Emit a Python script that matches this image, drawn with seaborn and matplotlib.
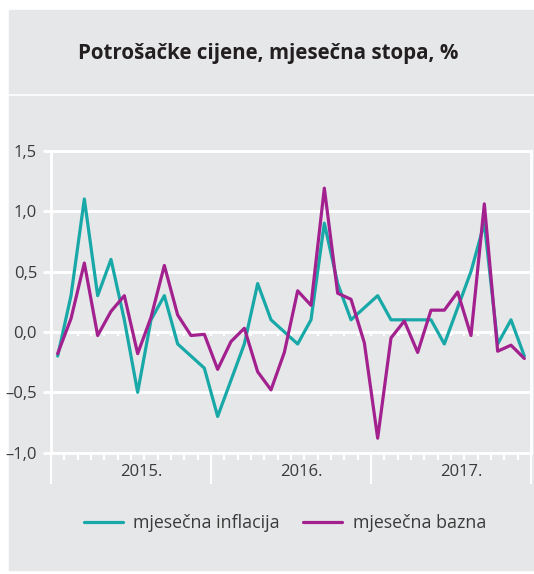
import numpy as np
import pandas as pd
import matplotlib
matplotlib.use("Agg")
import matplotlib.pyplot as plt
import seaborn as sns
from matplotlib.patches import Rectangle

# monthly data, Jan 2015 - Dec 2017
years = ["2015.", "2016.", "2017."]
inflacija = [-0.2, 0.3, 1.1, 0.3, 0.6, 0.1, -0.5, 0.1, 0.3, -0.1, -0.2, -0.3,
             -0.7, -0.4, -0.1, 0.4, 0.1, 0.0, -0.1, 0.1, 0.9, 0.4, 0.1, 0.2,
             0.3, 0.1, 0.1, 0.1, 0.1, -0.1, 0.2, 0.5, 0.9, -0.1, 0.1, -0.2]
bazna = [-0.18, 0.11, 0.57, -0.03, 0.17, 0.30, -0.18, 0.12, 0.55, 0.14, -0.03, -0.02,
         -0.31, -0.08, 0.03, -0.33, -0.48, -0.17, 0.34, 0.22, 1.19, 0.32, 0.27, -0.09,
         -0.88, -0.05, 0.09, -0.17, 0.18, 0.18, 0.33, -0.03, 1.06, -0.16, -0.11, -0.22]
yticks = [-1.0, -0.5, 0.0, 0.5, 1.0, 1.5]
ytick_labels = ["–1,0", "–0,5", "0,0", "0,5", "1,0", "1,5"]

n = len(inflacija)
x = np.arange(n) + 0.5
df = pd.DataFrame({
    "mjesec": np.concatenate([x, x]),
    "vrijednost": inflacija + bazna,
    "serija": ["mjesečna inflacija"] * n + ["mjesečna bazna"] * n,
})

sns.set_style("white")
plt.rcParams["font.family"] = ["Open Sans", "DejaVu Sans"]

W, H = 534, 574
fig = plt.figure(figsize=(W / 100, H / 100), dpi=100)
bg = "#e6e7e8"
fig.patches.append(Rectangle((9 / W, 1 - 93 / H), (W - 9) / W, 83 / H,
                             transform=fig.transFigure, color=bg, zorder=-1))
fig.patches.append(Rectangle((9 / W, 1 - 570 / H), (W - 9) / W, 474 / H,
                             transform=fig.transFigure, color=bg, zorder=-1))

fig.text(268 / W, 1 - 54 / H, "Potrošačke cijene, mjesečna stopa, %",
         ha="center", va="center", fontsize=14.8, fontweight="bold", color="#231f20")

ax = fig.add_axes([51 / W, 1 - 452.7 / H, 480 / W, 302 / H])
ax.set_facecolor("none")

sns.lineplot(data=df, x="mjesec", y="vrijednost", hue="serija", ax=ax,
             palette=["#19a8a8", "#a2218f"], linewidth=2.3)

ax.set_xlim(0, n)
ax.set_ylim(-1.0, 1.5)
ax.set_xlabel("")
ax.set_ylabel("")

ax.set_yticks(yticks)
ax.set_yticklabels(ytick_labels)
ax.yaxis.grid(True, color="white", linewidth=2)
ax.tick_params(axis="y", left=True, length=6, width=2, color="white", pad=4,
               labelsize=12, labelcolor="#3a3a3a")

ax.set_xticks(np.arange(0, n + 1, 12))
ax.set_xticklabels([])
ax.set_xticks(np.arange(0, n + 1), minor=True)
ax.tick_params(axis="x", which="major", bottom=True, length=22, width=1.6,
               color="white", direction="out")
ax.tick_params(axis="x", which="minor", bottom=True, length=5, width=1.6,
               color="white", direction="out")

# small month ticks on the zero line
ax.vlines(np.arange(1, n), -0.035, 0, color="white", linewidth=1.6, zorder=1)

for s in ax.spines.values():
    s.set_color("white")
    s.set_linewidth(2)

for i, yr in enumerate(years):
    ax.text(12 * i + 6.8, -1.16, yr, ha="center", va="center", fontsize=12, color="#3a3a3a")

sns.move_legend(ax, "center", bbox_to_anchor=(285 / W, 1 - 523 / H),
                bbox_transform=fig.transFigure, ncol=2, frameon=False, title=None,
                fontsize=12.8, handlelength=2.2, handletextpad=0.6, columnspacing=1.3)
for t in ax.get_legend().get_texts():
    t.set_color("#3a3a3a")

fig.savefig("out.png", dpi=100)
